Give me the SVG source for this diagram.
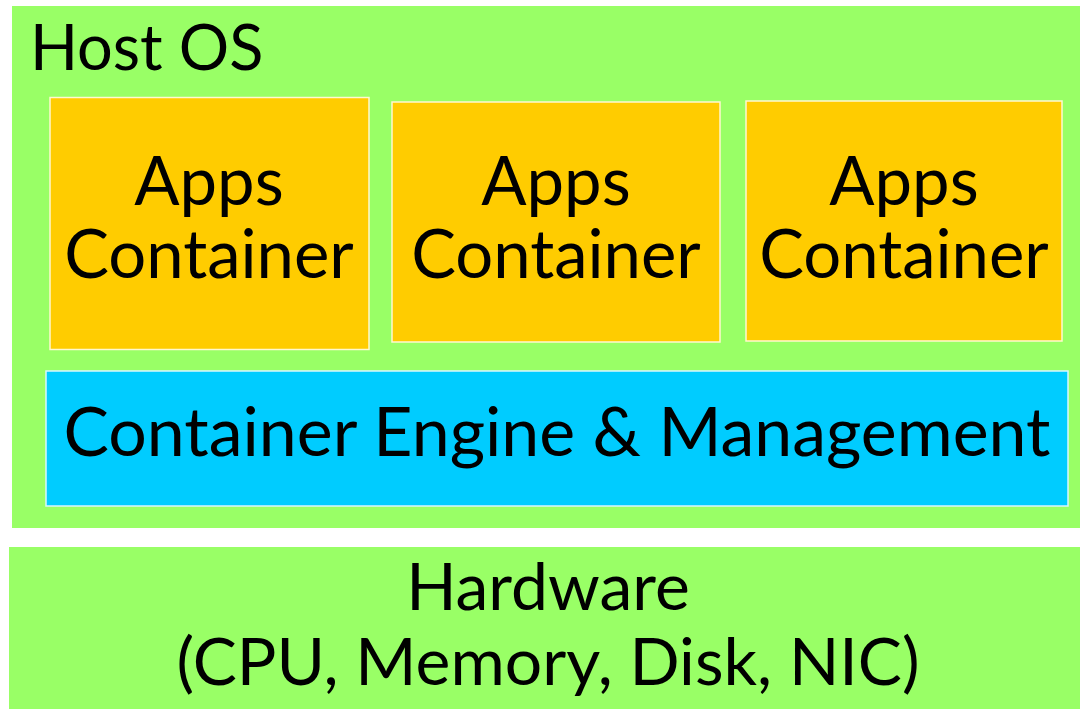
<svg xmlns="http://www.w3.org/2000/svg" width="1080" height="709" viewBox="0 0 1080 709">
<style>
text{font-family:Lato,"Noto Sans",sans-serif;font-size:66px;fill:#000;text-anchor:middle}
.g{fill:#99ff66}
.o{fill:#ffcc00;stroke:#fff8d0;stroke-width:1.5}
.b{fill:#00ccff;stroke:#d8f6ff;stroke-width:1.5}
</style>
<rect width="1080" height="709" fill="#fff"/>
<g id="hostos">
<rect class="g" x="12" y="6" width="1068" height="522"/>
<text x="30" y="70" style="text-anchor:start;font-size:63px">Host OS</text>
</g>
<g id="app1">
<rect class="o" x="50" y="97.5" width="319" height="252"/>
<text x="209" y="205" style="font-size:67px">Apps</text>
<text x="209" y="278" style="font-size:67px">Container</text>
</g>
<g id="app2">
<rect class="o" x="392" y="102" width="328" height="240"/>
<text x="556" y="205" style="font-size:67px">Apps</text>
<text x="556" y="278" style="font-size:67px">Container</text>
</g>
<g id="app3">
<rect class="o" x="746" y="101" width="316" height="240"/>
<text x="904" y="205" style="font-size:67px">Apps</text>
<text x="904" y="278" style="font-size:67px">Container</text>
</g>
<g id="engine">
<rect class="b" x="46" y="371" width="1022" height="135"/>
<text x="557" y="456" style="font-size:68px">Container Engine &amp; Management</text>
</g>
<g id="hardware">
<rect class="g" x="9" y="547" width="1071" height="162"/>
<text x="548" y="610">Hardware</text>
<text x="548" y="685">(CPU, Memory, Disk, NIC)</text>
</g>
<g id="connectors"/>
</svg>
